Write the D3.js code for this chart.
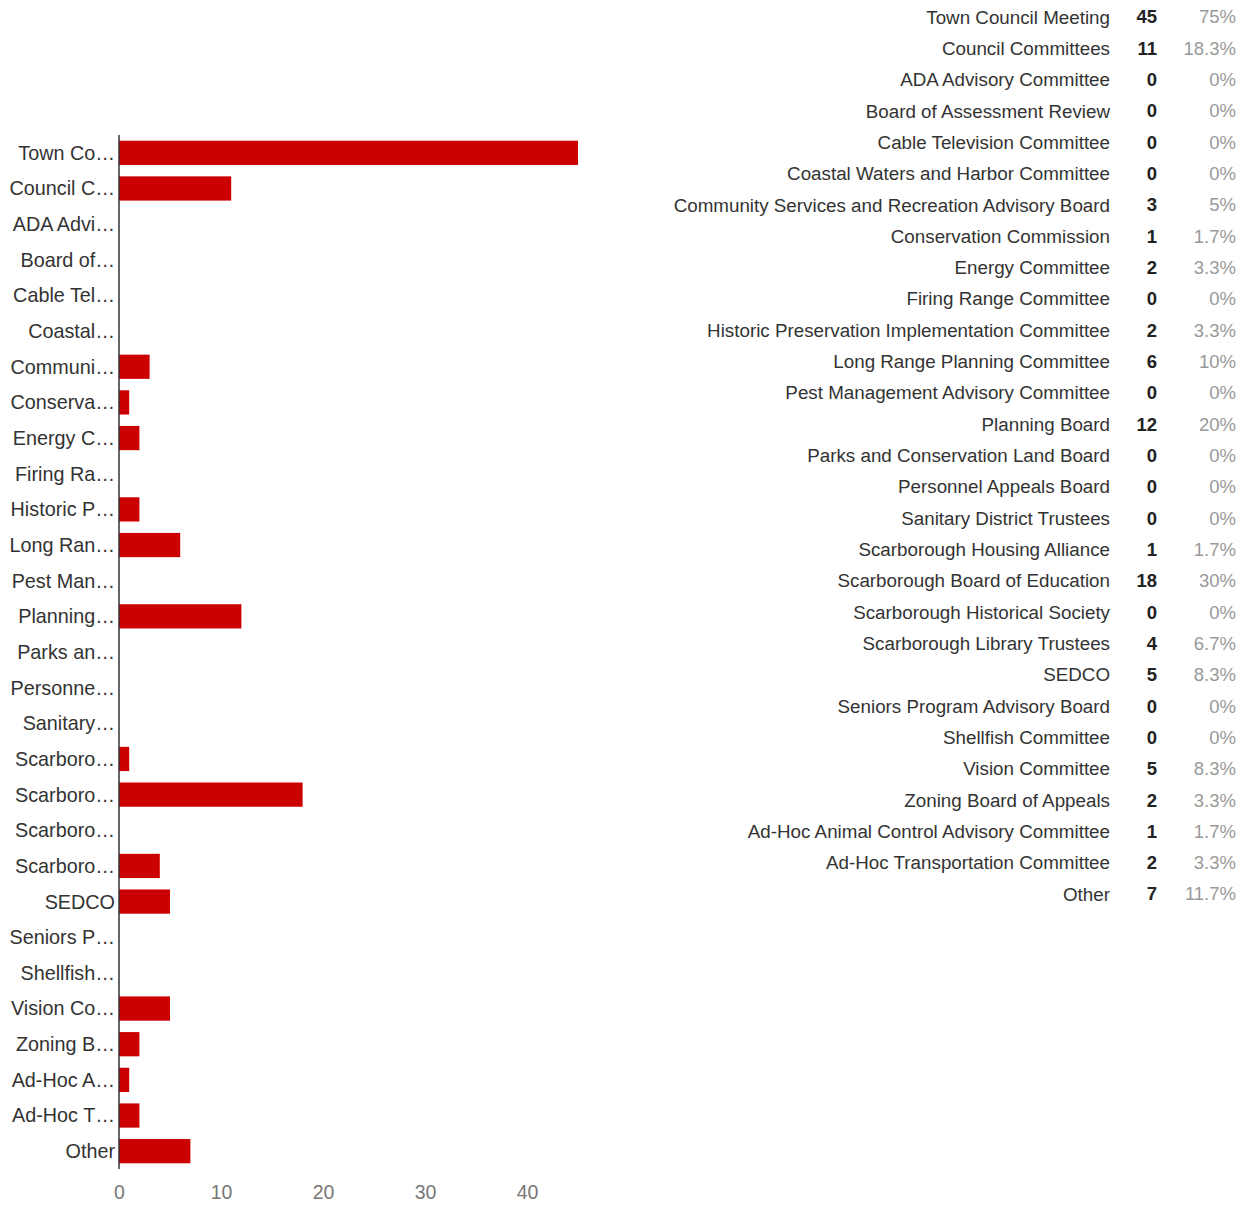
<!DOCTYPE html>
<html>
<head>
<meta charset="utf-8">
<script src="https://cdn.jsdelivr.net/npm/d3@7"></script>
<style>
  body { margin: 0; background: #fff; }
  text { font-family: "Liberation Sans", Arial, sans-serif; }
</style>
</head>
<body>
<script>
var width = 1241,
    height = 1205;

// categories (full names, as in the table)
var names = ["Town Council Meeting", "Council Committees", "ADA Advisory Committee",
  "Board of Assessment Review", "Cable Television Committee", "Coastal Waters and Harbor Committee",
  "Community Services and Recreation Advisory Board", "Conservation Commission", "Energy Committee",
  "Firing Range Committee", "Historic Preservation Implementation Committee", "Long Range Planning Committee",
  "Pest Management Advisory Committee", "Planning Board", "Parks and Conservation Land Board",
  "Personnel Appeals Board", "Sanitary District Trustees", "Scarborough Housing Alliance",
  "Scarborough Board of Education", "Scarborough Historical Society", "Scarborough Library Trustees",
  "SEDCO", "Seniors Program Advisory Board", "Shellfish Committee", "Vision Committee",
  "Zoning Board of Appeals", "Ad-Hoc Animal Control Advisory Committee", "Ad-Hoc Transportation Committee",
  "Other"];

// truncated axis labels as the chart shows them
var shortNames = ["Town Co…", "Council C…", "ADA Advi…", "Board of…", "Cable Tel…", "Coastal…",
  "Communi…", "Conserva…", "Energy C…", "Firing Ra…", "Historic P…", "Long Ran…", "Pest Man…",
  "Planning…", "Parks an…", "Personne…", "Sanitary…", "Scarboro…", "Scarboro…", "Scarboro…",
  "Scarboro…", "SEDCO", "Seniors P…", "Shellfish…", "Vision Co…", "Zoning B…", "Ad-Hoc A…",
  "Ad-Hoc T…", "Other"];

var counts = [45, 11, 0, 0, 0, 0, 3, 1, 2, 0, 2, 6, 0, 12, 0, 0, 0, 1, 18, 0, 4, 5, 0, 0, 5, 2, 1, 2, 7];

var percents = ["75%", "18.3%", "0%", "0%", "0%", "0%", "5%", "1.7%", "3.3%", "0%", "3.3%", "10%",
  "0%", "20%", "0%", "0%", "0%", "1.7%", "30%", "0%", "6.7%", "8.3%", "0%", "0%", "8.3%", "3.3%",
  "1.7%", "3.3%", "11.7%"];

var xTicks = [0, 10, 20, 30, 40];

var svg = d3.select("body").append("svg")
    .attr("width", width)
    .attr("height", height);

// ---- bar chart ----
var x = d3.scaleLinear()
    .domain([0, 10])
    .range([119, 221]);

var y = d3.scaleBand()
    .domain(d3.range(names.length))
    .range([135, 1169])
    .paddingInner(0.32)
    .paddingOuter(0.16);

svg.selectAll("rect.bar")
  .data(counts)
  .enter().append("rect")
    .attr("class", "bar")
    .attr("x", x(0))
    .attr("y", function(d, i) { return y(i); })
    .attr("width", function(d) { return x(d) - x(0); })
    .attr("height", y.bandwidth())
    .attr("fill", "#cc0000");

svg.selectAll("text.cat")
  .data(shortNames)
  .enter().append("text")
    .attr("class", "cat")
    .attr("x", 115)
    .attr("y", function(d, i) { return y(i) + y.bandwidth() / 2; })
    .attr("dy", "0.35em")
    .attr("text-anchor", "end")
    .attr("font-size", 19.8)
    .attr("fill", "#333")
    .text(function(d) { return d; });

// vertical baseline
svg.append("line")
    .attr("x1", x(0)).attr("x2", x(0))
    .attr("y1", 135).attr("y2", 1169)
    .attr("stroke", "#333")
    .attr("stroke-width", 1.5);

var xAxis = d3.axisBottom(x)
    .tickValues(xTicks)
    .tickSize(0)
    .tickPadding(0);

var gx = svg.append("g")
    .attr("transform", "translate(0,1185)")
    .call(xAxis);
gx.select(".domain").remove();
gx.selectAll("text")
    .attr("font-size", 19.5)
    .attr("fill", "#777")
    .attr("dy", "0.71em")
    .style("font-family", '"Liberation Sans", Arial, sans-serif');

// ---- table ----
var row = d3.scaleLinear()
    .domain([0, 28])
    .range([17, 894]);

var rows = svg.selectAll("g.row")
  .data(names)
  .enter().append("g")
    .attr("class", "row")
    .attr("transform", function(d, i) { return "translate(0," + row(i) + ")"; });

rows.append("text")
    .attr("x", 1110)
    .attr("dy", "0.35em")
    .attr("text-anchor", "end")
    .attr("font-size", 18.8)
    .attr("fill", "#333")
    .text(function(d) { return d; });

rows.append("text")
    .attr("x", 1157)
    .attr("dy", "0.35em")
    .attr("text-anchor", "end")
    .attr("font-size", 18.5)
    .attr("font-weight", "bold")
    .attr("fill", "#222")
    .text(function(d, i) { return counts[i]; });

rows.append("text")
    .attr("x", 1236)
    .attr("dy", "0.35em")
    .attr("text-anchor", "end")
    .attr("font-size", 18.5)
    .attr("fill", "#999")
    .text(function(d, i) { return percents[i]; });
</script>
</body>
</html>
